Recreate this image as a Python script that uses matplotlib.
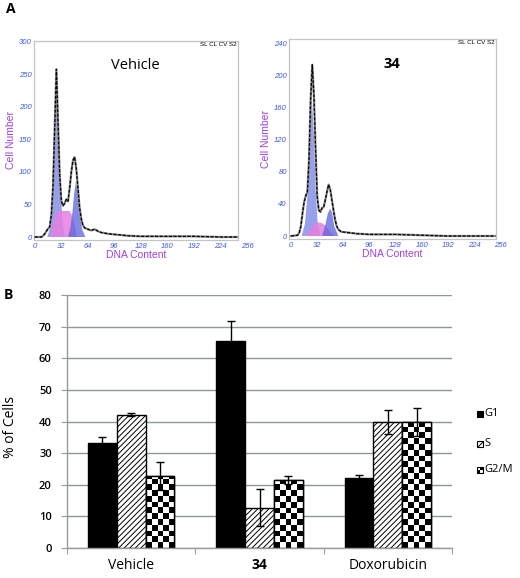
import numpy as np
import matplotlib
matplotlib.use("Agg")
import matplotlib.pyplot as plt
from matplotlib.patches import Rectangle

# ---------------- data: panel A (flow cytometry histograms) ----------------
veh_dna = [0, 8, 10, 12, 15, 18, 20, 22, 24, 26, 28, 30, 32, 34, 36, 38, 40, 42, 44, 46, 48, 50,
           52, 54, 56, 58, 60, 64, 68, 72, 76, 80, 88, 96, 104, 112, 128, 160, 192, 224, 245]
veh_cnt = [0, 0, 2, 5, 11, 16, 35, 80, 170, 258, 175, 95, 55, 48, 52, 58, 55, 75, 100, 118, 123, 105,
           75, 45, 28, 18, 14, 12, 10, 12, 9, 7, 5, 4, 3, 2, 1, 1, 1, 0, 0]
veh_g1_x = [15, 18, 20, 22, 24, 26.5, 28.5, 30.5, 33, 36]
veh_g1_y = [0, 12, 40, 110, 190, 228, 180, 95, 30, 0]
veh_s_x = [19, 22, 25, 29, 42, 45, 48, 51]
veh_s_y = [0, 20, 35, 40, 40, 33, 18, 0]
veh_g2_x = [40, 43, 45.5, 47.5, 49.5, 52, 54.5, 57, 61]
veh_g2_y = [0, 15, 40, 68, 85, 68, 38, 12, 0]

c34_dna = [0, 8, 10, 12, 14, 16, 18, 20, 22, 24, 26, 28, 30, 32, 34, 36, 38, 40, 42, 44, 46, 48,
           50, 52, 54, 56, 58, 62, 64, 72, 80, 96, 112, 128, 160, 192, 224, 250]
c34_cnt = [0, 1, 4, 12, 28, 42, 50, 55, 95, 170, 213, 175, 110, 50, 32, 30, 35, 36, 45, 55, 64, 58,
           45, 32, 20, 12, 8, 5, 5, 4, 3, 2, 2, 2, 1, 0, 0, 0]
c34_g1_x = [13, 17, 20, 22.5, 25.5, 28, 30, 32.5, 36]
c34_g1_y = [0, 15, 50, 120, 172, 125, 60, 18, 0]
c34_s_x = [18, 22, 26, 30, 34, 38, 42, 46, 50, 54]
c34_s_y = [0, 6, 12, 16, 17, 16, 13, 8, 3, 0]
c34_g2_x = [38, 42, 45, 48, 50.5, 53, 58]
c34_g2_y = [0, 14, 28, 34, 28, 12, 0]

dna_ticks = [0, 32, 64, 96, 128, 160, 192, 224, 256]
veh_yticks = [0, 50, 100, 150, 200, 250, 300]
c34_yticks = [0, 40, 80, 120, 160, 200, 240]

# ---------------- data: panel B (bar chart) ----------------
treatments = ["Vehicle", "34", "Doxorubicin"]
phases = ["G1", "S", "G2/M"]
g1_vals = [33.3, 65.3, 22.2]
g1_err = [1.7, 6.4, 1.0]
s_vals = [42.2, 12.7, 39.8]
s_err = [0.5, 5.9, 3.7]
g2m_vals = [22.7, 21.5, 39.8]
g2m_err = [4.5, 1.2, 4.5]
bar_yticks = [0, 10, 20, 30, 40, 50, 60, 70, 80]

# ---------------- figure ----------------
W, H = 520, 578
fig = plt.figure(figsize=(W / 100, H / 100), dpi=100)
fig.patch.set_facecolor("white")


def fr(px_left, px_top, px_right, px_bottom):
    return [px_left / W, 1 - px_bottom / H, (px_right - px_left) / W, (px_bottom - px_top) / H]


TICK_BLUE = "#3f57ee"
LABEL_PURPLE = "#a03fdc"
G1_COL = "#98a0ec"
S_COL = "#e67ee0"
G2_COL = "#5b63dc"


def histo(rect, dna, cnt, g1x, g1y, sx, sy, g2x, g2y, yticks, xlim, ylim, title, bold):
    ax = fig.add_axes(rect)
    ax.set_xlim(*xlim)
    ax.set_ylim(*ylim)
    for sp in ax.spines.values():
        sp.set_color("#c4c4c4")
        sp.set_linewidth(0.9)
    ax.fill(g1x, g1y, color=G1_COL, lw=0, zorder=1)
    ax.fill(sx, sy, color=S_COL, alpha=0.85, lw=0, zorder=2)
    ax.fill(g2x, g2y, color=G2_COL, alpha=0.75, lw=0, zorder=3)
    ax.plot(dna, cnt, color="#8a8a8a", lw=1.6, zorder=4)
    ax.plot(dna, cnt, color="black", lw=0.9, ls=(0, (2.5, 1.2)), zorder=5)
    ax.set_xticks([])
    ax.set_yticks(yticks)
    ax.set_yticklabels([str(t) for t in yticks], fontsize=5.5, style="italic",
                       color=TICK_BLUE, family="Liberation Sans")
    ax.tick_params(axis="y", length=0, pad=1.5)
    for t in dna_ticks:
        ax.annotate(str(t), xy=(t, 0), xycoords=("data", "axes fraction"),
                    xytext=(0, -2), textcoords="offset points", ha="center", va="top",
                    fontsize=5.5, style="italic", color=TICK_BLUE, family="Liberation Sans",
                    annotation_clip=False)
    ax.text(0.995, 0.995, "SL CL CV S2", transform=ax.transAxes, ha="right", va="top",
            fontsize=4.5, family="Liberation Sans")
    ax.text(0.495, 0.875, title, transform=ax.transAxes, ha="center", va="center",
            fontsize=10.5, family="Open Sans", fontweight="bold" if bold else "normal")
    ax.set_xlabel("DNA Content", color=LABEL_PURPLE, fontsize=7.5, family="Liberation Sans",
                  labelpad=7)
    ax.set_ylabel("Cell Number", color=LABEL_PURPLE, fontsize=7.5, family="Liberation Sans",
                  labelpad=2.5)
    return ax


ax1 = histo(fr(34, 41, 238, 240), veh_dna, veh_cnt, veh_g1_x, veh_g1_y, veh_s_x, veh_s_y,
            veh_g2_x, veh_g2_y, veh_yticks, (-1, 245), (-4.6, 301.5), "Vehicle", False)
ax2 = histo(fr(289, 39, 496, 239), c34_dna, c34_cnt, c34_g1_x, c34_g1_y, c34_s_x, c34_s_y,
            c34_g2_x, c34_g2_y, c34_yticks, (-2.5, 251), (-3.7, 245), "34", True)

fig.text(11 / W, 1 - 9 / H, "A", fontsize=10, fontweight="bold", ha="center", va="center",
         family="Open Sans")
fig.text(8 / W, 1 - 295 / H, "B", fontsize=10, fontweight="bold", ha="center", va="center",
         family="Open Sans")

# ---------------- panel B ----------------
bx0, bx1, by0, by1 = 67, 452, 295, 548
axb = fig.add_axes(fr(bx0, by0, bx1, by1))
axb.set_xlim(-0.5, len(treatments) - 0.5)
axb.set_ylim(0, 80)
GRID = "#8d9898"
for sp in ["top", "right"]:
    axb.spines[sp].set_visible(False)
for sp in ["left", "bottom"]:
    axb.spines[sp].set_color("#9a9a9a")
    axb.spines[sp].set_linewidth(1)
axb.set_yticks(bar_yticks)
axb.set_yticklabels([str(t) for t in bar_yticks], fontsize=8, family="Open Sans",
                    fontweight="semibold")
axb.tick_params(axis="y", length=4, color="#9a9a9a", pad=7)
axb.yaxis.grid(True, color=GRID, lw=1)
axb.set_axisbelow(True)
axb.set_xticks(np.arange(-0.5, len(treatments), 1.0))
axb.set_xticklabels([])
axb.tick_params(axis="x", which="major", length=4, color="#9a9a9a")
axb.set_xticks(np.arange(len(treatments)), minor=True)
axb.set_xticklabels(treatments, minor=True, fontsize=10, family="Open Sans")
axb.tick_params(axis="x", which="minor", length=0, pad=7)
for lbl in axb.get_xticklabels(minor=True):
    if lbl.get_text() == "34":
        lbl.set_fontweight("bold")
axb.set_ylabel("% of Cells", fontsize=10, family="Open Sans")
axb.yaxis.set_label_coords(-0.128, 0.478)

x = np.arange(len(treatments))
bw = 0.225
plt.rcParams["hatch.linewidth"] = 0.7
axb.bar(x - bw, g1_vals, bw, color="black", edgecolor="black", lw=1, zorder=2)
axb.bar(x, s_vals, bw, color="white", edgecolor="black", hatch="//////", lw=1, zorder=2)
g2_bars = axb.bar(x + bw, g2m_vals, bw, color="white", edgecolor="black", lw=1, zorder=2)

# checkerboard fill for G2/M bars
px_per_x = (bx1 - bx0) / len(treatments)
px_per_y = (by1 - by0) / 80
cell_px = bw * px_per_x / 5
cell_h = cell_px / px_per_y
for b, v in zip(g2_bars, g2m_vals):
    nrows = int(np.ceil(v / cell_h)) + 1
    ii, jj = np.indices((nrows, 5))
    board = (ii + jj) % 2
    im = axb.imshow(board, cmap="gray", origin="lower", interpolation="nearest",
                    extent=[b.get_x(), b.get_x() + bw, 0, nrows * cell_h], aspect="auto",
                    zorder=2.2)
    im.set_clip_path(b)
    axb.bar(b.get_x() + bw / 2, v, bw, fill=False, edgecolor="black", lw=1, zorder=2.4)
axb.set_xlim(-0.5, len(treatments) - 0.5)
axb.set_ylim(0, 80)

for off, vals, errs in [(-bw, g1_vals, g1_err), (0, s_vals, s_err), (bw, g2m_vals, g2m_err)]:
    axb.errorbar(x + off, vals, yerr=errs, fmt="none", ecolor="black", elinewidth=1,
                 capsize=3, capthick=1, zorder=3)


# legend (drawn manually in figure pixels)
def leg_icon(px, py, kind):
    s = 6
    if kind == "G1":
        fig.add_artist(Rectangle((px / W, 1 - (py + s / 2) / H), s / W, s / H,
                                 transform=fig.transFigure, facecolor="black", edgecolor="black", lw=0.8))
    elif kind == "S":
        fig.add_artist(Rectangle((px / W, 1 - (py + s / 2) / H), s / W, s / H,
                                 transform=fig.transFigure, facecolor="white", edgecolor="black",
                                 hatch="////", lw=0.8))
    else:
        fig.add_artist(Rectangle((px / W, 1 - (py + s / 2) / H), s / W, s / H,
                                 transform=fig.transFigure, facecolor="white", edgecolor="black", lw=0.8))
        fig.add_artist(Rectangle((px / W, 1 - (py + s / 2) / H), s / 2 / W, s / 2 / H,
                                 transform=fig.transFigure, facecolor="black", lw=0))
        fig.add_artist(Rectangle(((px + s / 2) / W, 1 - py / H), s / 2 / W, s / 2 / H,
                                 transform=fig.transFigure, facecolor="black", lw=0))


for name, py in zip(phases, [414, 444, 470]):
    leg_icon(477, py, name)
    fig.text(484.5 / W, 1 - py / H, name, fontsize=8, family="Open Sans", ha="left", va="center")

fig.savefig("out.png", dpi=100, facecolor="white")
